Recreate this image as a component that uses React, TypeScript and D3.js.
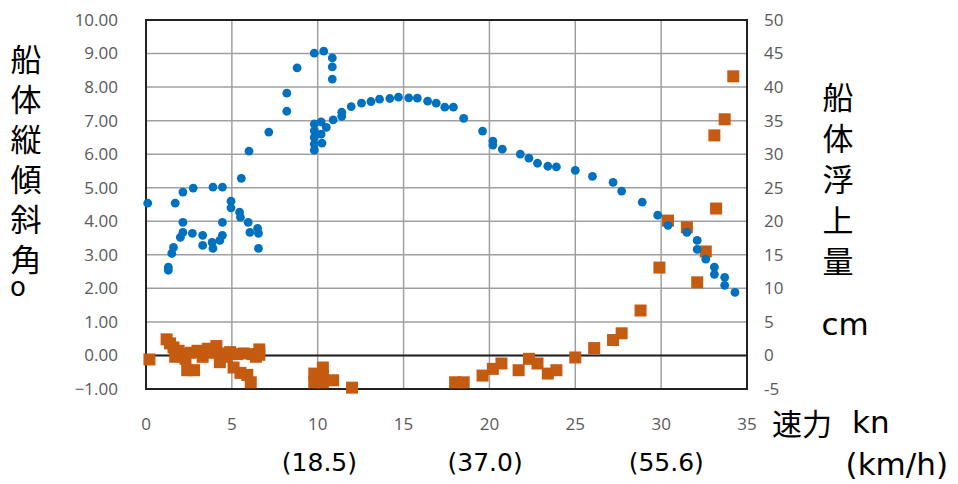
import * as d3 from 'd3';

// speed (kn) / trim angle (deg)
const trimKn = [0.1, 1.3, 1.3, 1.5, 1.6, 1.7, 2.0, 2.15, 2.15, 2.15, 2.7, 2.75, 3.3, 3.3, 3.85, 3.9, 3.9, 4.3, 4.45, 4.45, 4.45, 4.95, 4.95, 5.45, 5.5, 5.55, 5.95, 6.05, 6.0, 6.5, 6.55, 6.55, 7.15, 8.2, 8.2, 8.8, 9.8, 10.35, 10.85, 10.85, 10.85, 9.8, 9.8, 9.8, 9.8, 9.8, 10.2, 10.2, 10.25, 10.5, 10.9, 11.4, 11.4, 11.95, 12.55, 13.1, 13.6, 14.2, 14.7, 15.3, 15.8, 16.4, 16.9, 17.4, 17.9, 18.5, 19.6, 20.2, 20.2, 20.75, 21.8, 22.3, 22.8, 23.4, 23.9, 25.0, 26.0, 27.2, 27.7, 28.9, 29.8, 30.4, 31.5, 32.1, 32.1, 32.6, 33.1, 33.1, 33.7, 33.7, 34.3];
const trimDeg = [4.54, 2.63, 2.54, 3.04, 3.22, 4.54, 3.52, 3.67, 3.97, 4.87, 3.64, 4.99, 3.58, 3.28, 3.37, 3.19, 5.02, 3.43, 3.58, 3.97, 5.02, 4.6, 4.4, 4.27, 4.12, 5.28, 3.97, 3.67, 6.09, 3.79, 3.64, 3.19, 6.66, 7.82, 7.28, 8.57, 9.01, 9.07, 8.87, 8.6, 8.24, 6.12, 6.3, 6.5, 6.7, 6.9, 6.96, 6.6, 6.33, 6.8, 7.02, 7.25, 7.13, 7.42, 7.52, 7.57, 7.64, 7.66, 7.7, 7.68, 7.67, 7.58, 7.52, 7.4, 7.4, 7.07, 6.69, 6.39, 6.27, 6.15, 6.0, 5.88, 5.73, 5.64, 5.62, 5.52, 5.34, 5.16, 4.9, 4.57, 4.18, 3.88, 3.67, 3.43, 3.16, 2.87, 2.63, 2.42, 2.33, 2.09, 1.88];

// speed (kn) / rise (cm)
const riseKn = [0.2, 1.2, 1.4, 1.6, 1.9, 2.1, 1.7, 2.3, 2.4, 2.8, 2.6, 3.0, 3.3, 3.6, 3.9, 4.1, 4.3, 4.5, 4.7, 4.9, 5.1, 5.3, 5.5, 5.7, 5.9, 6.1, 6.2, 6.4, 6.6, 6.6, 9.8, 9.8, 10.3, 10.3, 10.3, 10.9, 12.0, 18.0, 18.5, 19.6, 20.2, 20.7, 21.7, 22.3, 22.8, 23.4, 23.9, 25.0, 26.1, 27.2, 27.7, 28.8, 29.9, 30.4, 31.5, 32.1, 32.6, 33.1, 33.2, 33.7, 34.2];
const riseCm = [-0.6, 2.4, 1.8, 1.2, 0.7, 0.2, -0.2, -0.5, -2.2, -2.2, 0.4, 0.7, -0.2, 1.0, 0.4, 1.4, -1.0, 0.3, -0.2, 0.5, -1.8, 0.2, -2.6, 0.3, -2.9, -4.0, 0.2, -0.2, 0.9, 0.1, -2.7, -4.0, -1.8, -3.0, -4.0, -3.7, -4.8, -4.0, -4.0, -3.0, -2.0, -1.2, -2.2, -0.5, -1.2, -2.7, -2.2, -0.3, 1.1, 2.3, 3.3, 6.7, 13.1, 20.1, 19.1, 10.9, 15.5, 32.8, 21.9, 35.2, 41.6];

const xTicks = [0, 5, 10, 15, 20, 25, 30, 35];
const leftTicks = d3.range(-1, 10.5, 1);
const rightTicks = d3.range(-5, 51, 5);
const kmhLabels = [{ kn: 10.1, text: '(18.5)' }, { kn: 19.75, text: '(37.0)' }, { kn: 30.3, text: '(55.6)' }];
const leftTitle = '船体縦傾斜角';
const rightTitle = '船体浮上量';

export default function App() {
  const x = d3.scaleLinear().domain([0, 35]).range([146, 747]);
  const yL = d3.scaleLinear().domain([-1, 10]).range([389, 20]);
  const yR = d3.scaleLinear().domain([-5, 50]).range([389, 20]);
  const tickFont = '"Open Sans", "Noto Sans", sans-serif';
  const wideFont = '"DejaVu Sans", sans-serif';
  const cjk = '"Noto Sans CJK JP", sans-serif';
  const blue = '#0070c0';
  const orange = '#c55a11';

  return (
    <svg width={958} height={484} style={{ position: 'absolute', left: 0, top: 0, background: '#fff' }}>
      <rect x={0} y={0} width={958} height={484} fill="#fff" />
      {/* grid */}
      {leftTicks.map(t => (
        <line key={'h' + t} x1={x(0)} x2={x(35)} y1={yL(t)} y2={yL(t)} stroke="#a0a0a0" strokeWidth={1.5} />
      ))}
      {xTicks.map(t => (
        <line key={'v' + t} x1={x(t)} x2={x(t)} y1={yL(10)} y2={yL(-1)} stroke="#a0a0a0" strokeWidth={1.5} />
      ))}
      {/* frame */}
      <rect x={x(0)} y={yL(10)} width={x(35) - x(0)} height={yL(-1) - yL(10)} fill="none" stroke="#222" strokeWidth={2} />
      <line x1={x(0)} x2={x(35)} y1={yL(0)} y2={yL(0)} stroke="#222" strokeWidth={2} />

      {/* orange squares (right axis) */}
      {riseKn.map((k, i) => (
        <rect key={'r' + i} x={x(k) - 6} y={yR(riseCm[i]) - 6} width={12} height={12} fill={orange} />
      ))}
      {/* blue dots (left axis) */}
      {trimKn.map((k, i) => (
        <circle key={'c' + i} cx={x(k)} cy={yL(trimDeg[i])} r={4.4} fill={blue} />
      ))}

      {/* left ticks */}
      {leftTicks.map(t => (
        <text key={'lt' + t} x={118} y={yL(t)} dy="0.35em" textAnchor="end" fontFamily={tickFont} fontSize={17} fill="#595959">
          {d3.format('.2f')(t)}
        </text>
      ))}
      {/* right ticks */}
      {rightTicks.map(t => (
        <text key={'rt' + t} x={764} y={yR(t)} dy="0.35em" textAnchor="start" fontFamily={tickFont} fontSize={17} fill="#595959">
          {t}
        </text>
      ))}
      {/* bottom ticks */}
      {xTicks.map(t => (
        <text key={'bt' + t} x={x(t)} y={424} dy="0.35em" textAnchor="middle" fontFamily={tickFont} fontSize={17} fill="#595959">
          {t}
        </text>
      ))}
      {kmhLabels.map(d => (
        <text key={'km' + d.kn} x={x(d.kn)} y={471} textAnchor="middle" fontFamily={wideFont} fontSize={25} fill="#000">
          {d.text}
        </text>
      ))}

      {/* titles */}
      <text x={26} y={44} fontFamily={cjk} fontSize={31} letterSpacing={9} fill="#000" style={{ writingMode: 'vertical-rl' }}>
        {leftTitle}
      </text>
      <text x={18} y={296} textAnchor="middle" fontFamily={wideFont} fontSize={26} fill="#000">o</text>
      <text x={838} y={82} fontFamily={cjk} fontSize={31} letterSpacing={10} fill="#000" style={{ writingMode: 'vertical-rl' }}>
        {rightTitle}
      </text>
      <text x={845} y={335} textAnchor="middle" fontFamily={wideFont} fontSize={31} fill="#000">cm</text>
      <text x={772} y={435} fontFamily={cjk} fontSize={30} fill="#000">速力</text>
      <text x={852} y={433} fontFamily={wideFont} fontSize={31} fill="#000">kn</text>
      <text x={948} y={475} textAnchor="end" fontFamily={wideFont} fontSize={31} fill="#000">(km/h)</text>
    </svg>
  );
}
